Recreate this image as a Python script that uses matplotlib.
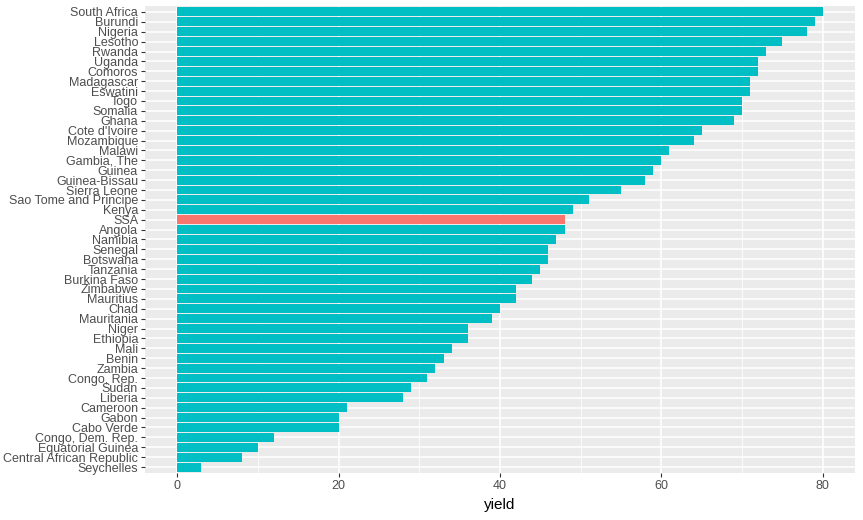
import numpy as np
import matplotlib
matplotlib.use('Agg')
from matplotlib import pyplot as plt

plt.rcParams['font.family'] = ['Liberation Sans', 'DejaVu Sans']

# top to bottom, as in the chart
countries = ['South Africa', 'Burundi', 'Nigeria', 'Lesotho', 'Rwanda', 'Uganda',
             'Comoros', 'Madagascar', 'Eswatini', 'Togo', 'Somalia', 'Ghana',
             "Cote d'Ivoire", 'Mozambique', 'Malawi', 'Gambia, The', 'Guinea',
             'Guinea-Bissau', 'Sierra Leone', 'Sao Tome and Principe', 'Kenya', 'SSA',
             'Angola', 'Namibia', 'Senegal', 'Botswana', 'Tanzania', 'Burkina Faso',
             'Zimbabwe', 'Mauritius', 'Chad', 'Mauritania', 'Niger', 'Ethiopia', 'Mali',
             'Benin', 'Zambia', 'Congo, Rep.', 'Sudan', 'Liberia', 'Cameroon', 'Gabon',
             'Cabo Verde', 'Congo, Dem. Rep.', 'Equatorial Guinea',
             'Central African Republic', 'Seychelles']
yields = [80, 79, 78, 75, 73, 72, 72, 71, 71, 70, 70, 69, 65, 64, 61, 60, 59, 58, 55,
          51, 49, 48, 48, 47, 46, 46, 45, 44, 42, 42, 40, 39, 36, 36, 34, 33, 32, 31,
          29, 28, 21, 20, 20, 12, 10, 8, 3]
highlight = 'SSA'

teal = '#00BFC4'
red = '#F8766D'

n = len(countries)
ypos = np.arange(n, 0, -1)
colors = [red if c == highlight else teal for c in countries]

fig = plt.figure(figsize=(8.63, 5.2), dpi=100)
ax = fig.add_axes([145 / 863, 1 - 473 / 520, (855 - 145) / 863, (473 - 6) / 520])
ax.set_facecolor('#EBEBEB')

ax.set_xlim(-4, 84)
ax.set_ylim(0.4, n + 0.6)

for v in [10, 30, 50, 70]:
    ax.axvline(v, color='white', lw=0.55, zorder=0)
for v in [0, 20, 40, 60, 80]:
    ax.axvline(v, color='white', lw=1.1, zorder=0)
for y in ypos:
    ax.axhline(y, color='white', lw=1.1, zorder=0)

ax.barh(ypos, yields, height=0.9, color=colors, zorder=2)

ax.set_xticks([0, 20, 40, 60, 80])
ax.set_yticks(ypos)
ax.set_yticklabels(countries)
ax.tick_params(axis='both', colors='#333333', labelcolor='#4D4D4D', labelsize=9,
               length=3, width=0.8, pad=2)
for s in ax.spines.values():
    s.set_visible(False)
ax.set_xlabel('yield', fontsize=11, color='black', labelpad=4)

plt.savefig('out.png', dpi=100)
